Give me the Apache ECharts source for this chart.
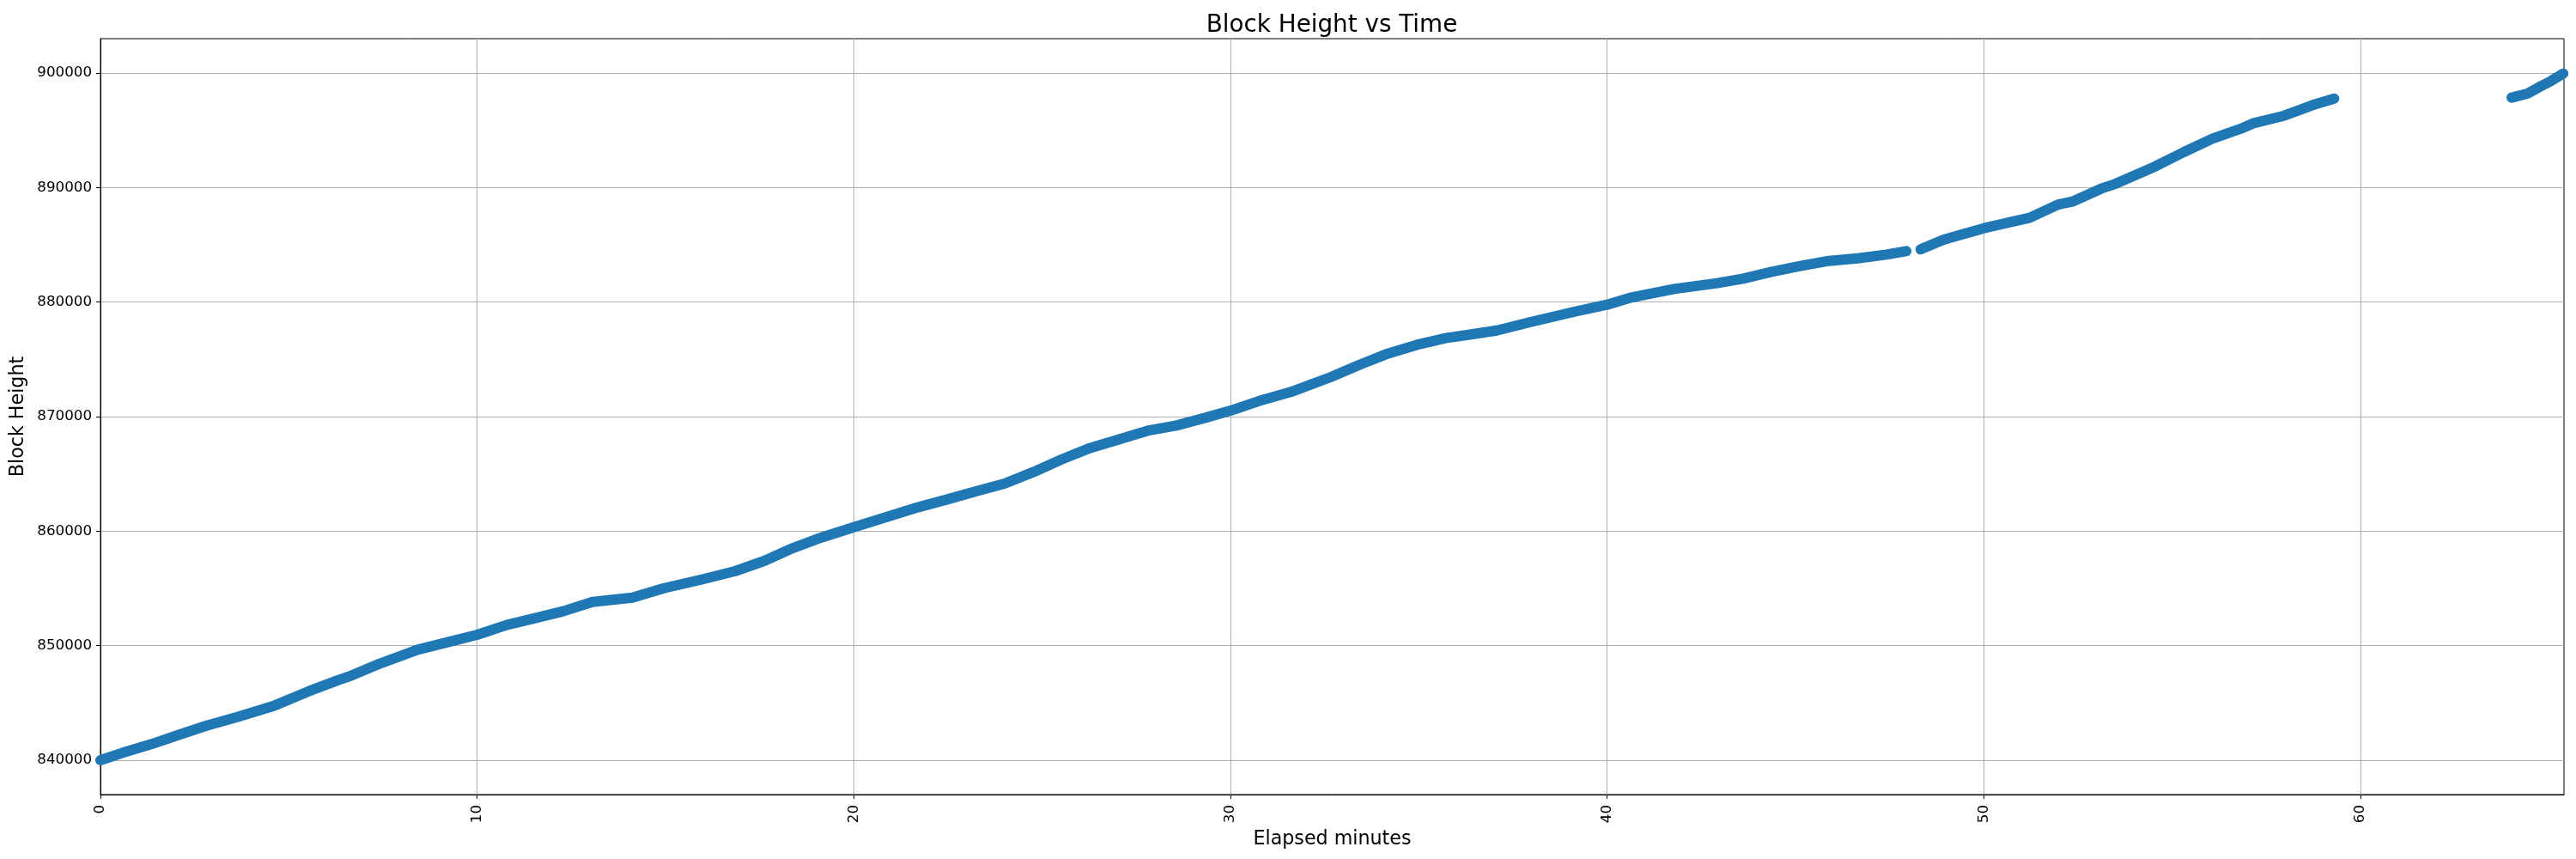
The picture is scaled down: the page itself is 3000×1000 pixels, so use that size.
<!DOCTYPE html>
<html>
<head>
<meta charset="utf-8">
<script src="https://cdn.jsdelivr.net/npm/echarts@6/dist/echarts.min.js"></script>
<style>
  html, body { margin: 0; padding: 0; background: #fff; }
  #chart { width: 3000px; height: 1000px; }
</style>
</head>
<body>
<div id="chart"></div>
<script>
// elapsed minutes / block height, three runs split by gaps
const minutesA = [0, 0.59, 1.35, 2.11, 2.8, 3.63, 4.62, 5.53, 6.29, 6.67, 7.43, 8.42, 9.33, 10.0,
  10.78, 11.54, 12.3, 13.06, 14.12, 14.96, 15.95, 16.86, 17.62, 18.38, 19.14, 20.0, 20.66,
  21.72, 22.48, 23.24, 24.0, 24.76, 25.52, 26.28, 27.04, 27.8, 28.56, 29.33, 30.0, 30.84, 31.6,
  32.66, 33.42, 34.19, 34.95, 35.71, 36.47, 37.07, 37.98, 39.12, 40.0, 40.64, 41.78, 42.92,
  43.61, 44.37, 45.13, 45.89, 46.65, 47.41, 47.94];
const heightsA = [840000, 840650, 841400, 842250, 843000, 843770, 844770, 846020, 846970, 847400,
  848450, 849650, 850400, 850950, 851800, 852400, 853020, 853820, 854200, 855020, 855770,
  856520, 857400, 858520, 859450, 860350, 861020, 862100, 862770, 863470, 864150, 865150,
  866270, 867270, 868020, 868770, 869220, 869900, 870520, 871450, 872150, 873450, 874520,
  875520, 876270, 876850, 877220, 877520, 878270, 879150, 879770, 880400, 881150, 881650,
  882050, 882650, 883150, 883600, 883820, 884150, 884450];

const minutesB = [48.32, 48.93, 50.0, 50.75, 51.21, 51.97, 52.35, 53.11, 53.49, 54.55, 55.31,
  56.07, 56.83, 57.14, 57.97, 58.73, 59.3];
const heightsB = [884600, 885450, 886450, 887020, 887350, 888520, 888770, 889900, 890320,
  891850, 893100, 894270, 895150, 895600, 896270, 897200, 897770];

const minutesC = [64.01, 64.43, 64.74, 65.04, 65.38];
const heightsC = [897850, 898200, 898770, 899270, 899950];

const xTicks = [0, 10, 20, 30, 40, 50, 60];
const yTicks = [840000, 850000, 860000, 870000, 880000, 890000, 900000];

const pair = (xs, ys) => xs.map((x, i) => [x, ys[i]]);

const font = "DejaVu Sans";
const blue = "#1f77b4";

const runStyle = {
  type: "line",
  showSymbol: false,
  symbol: "none",
  smooth: false,
  lineStyle: { color: blue, width: 12, cap: "round", join: "round" },
  itemStyle: { color: blue },
  silent: true,
  animation: false,
};

const chart = echarts.init(document.getElementById("chart"), null, { renderer: "canvas" });

chart.setOption({
  backgroundColor: "#ffffff",
  animation: false,
  title: {
    text: "Block Height vs Time",
    left: 1551,
    top: 16,
    padding: 0,
    textAlign: "center",
    textStyle: { fontFamily: font, fontSize: 27.8, fontWeight: "normal", color: "#000" },
  },
  grid: {
    left: 117,
    right: 14,
    top: 45,
    bottom: 75,
    show: true,
    borderColor: "#000",
    borderWidth: 1,
    backgroundColor: "transparent",
  },
  xAxis: {
    type: "value",
    min: 0,
    max: 65.4,
    interval: 10,
    name: "Elapsed minutes",
    nameLocation: "middle",
    nameGap: 36,
    nameTextStyle: { fontFamily: font, fontSize: 22.2, color: "#000" },
    axisLine: { show: true, lineStyle: { color: "#000", width: 1 } },
    axisTick: { show: true, length: 5, lineStyle: { color: "#000", width: 1 }, customValues: xTicks },
    axisLabel: {
      rotate: 90,
      margin: 12,
      fontFamily: font,
      fontSize: 16.7,
      color: "#000",
      customValues: xTicks,
    },
    splitLine: { show: true, lineStyle: { color: "#b0b0b0", width: 1 } },
  },
  yAxis: {
    type: "value",
    min: 837000,
    max: 903000,
    name: "Block Height",
    nameLocation: "middle",
    nameGap: 78,
    nameTextStyle: { fontFamily: font, fontSize: 22.2, color: "#000" },
    axisLine: { show: true, lineStyle: { color: "#000", width: 1 } },
    axisTick: { show: true, length: 5, lineStyle: { color: "#000", width: 1 }, customValues: yTicks },
    axisLabel: {
      margin: 10,
      fontFamily: font,
      fontSize: 16.7,
      color: "#000",
      customValues: yTicks,
      formatter: (v) => String(v),
    },
    splitLine: { show: true, lineStyle: { color: "#b0b0b0", width: 1 } },
  },
  series: [
    { ...runStyle, data: pair(minutesA, heightsA) },
    { ...runStyle, data: pair(minutesB, heightsB) },
    { ...runStyle, data: pair(minutesC, heightsC) },
  ],
});
</script>
</body>
</html>
